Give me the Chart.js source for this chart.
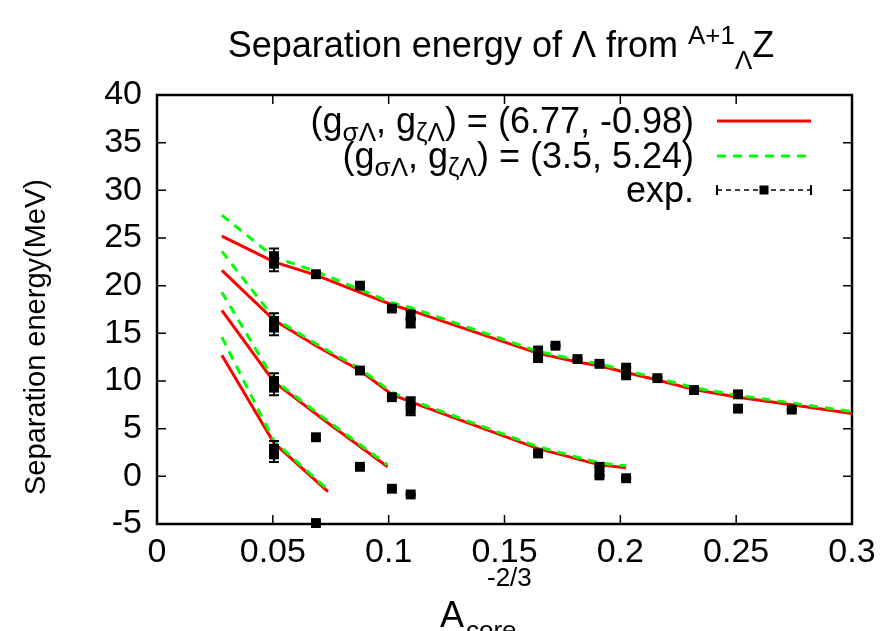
<!DOCTYPE html>
<html>
<head>
<meta charset="utf-8">
<script src="https://cdn.jsdelivr.net/npm/chart.js@4.4.1/dist/chart.umd.min.js"></script>
<style>
  html, body { margin: 0; padding: 0; background: #fff; }
  #wrap { width: 886px; height: 631px; }
</style>
</head>
<body>
<div id="wrap"><canvas id="c" width="886" height="631"></canvas></div>
<script>
// x axis: A_core^(-2/3), y axis: separation energy (MeV)
const X_MIN = 0, X_MAX = 0.3, Y_MIN = -5, Y_MAX = 40;
const xTicks = [0, 0.05, 0.1, 0.15, 0.2, 0.25, 0.3];
const yTicks = [-5, 0, 5, 10, 15, 20, 25, 30, 35, 40];

// s-shell
const sX = [0.028, 0.0505, 0.0686, 0.0876, 0.1014, 0.1095, 0.1645, 0.1815, 0.191, 0.2025, 0.216, 0.2318, 0.2508, 0.274, 0.3];
const sRed = [25.2, 22.5, 21.1, 19.3, 18.0, 17.4, 12.9, 12.0, 11.6, 10.9, 10.1, 9.1, 8.3, 7.5, 6.6];
const sGreen = [27.4, 23.0, 21.5, 19.6, 18.2, 17.7, 13.1, 12.2, 11.8, 11.1, 10.3, 9.3, 8.5, 7.7, 6.8];
// p-shell
const pX = [0.028, 0.0505, 0.0686, 0.0876, 0.1014, 0.1095, 0.1645, 0.191, 0.2025];
const pRed = [21.6, 16.4, 13.7, 11.1, 8.6, 7.8, 2.9, 1.2, 0.9];
const pGreen = [23.6, 16.6, 13.9, 11.3, 8.8, 8.0, 3.1, 1.4, 1.1];
// d-shell
const dX = [0.028, 0.0505, 0.0738, 0.0995];
const dRed = [17.4, 9.9, 5.6, 1.0];
const dGreen = [19.3, 10.1, 5.8, 1.2];
// f-shell
const fX = [0.028, 0.0505, 0.0738];
const fRed = [12.7, 3.5, -1.6];
const fGreen = [14.6, 3.7, -1.4];

// experimental values
const expX = [0.0505, 0.0505, 0.0686, 0.0876, 0.1014, 0.1095, 0.1095, 0.1645, 0.1645, 0.172, 0.1815, 0.191, 0.2025, 0.2025, 0.216, 0.2318, 0.2508, 0.2508, 0.274,
              0.0505, 0.0505, 0.0876, 0.1014, 0.1095, 0.1095, 0.1645, 0.191, 0.191, 0.2025,
              0.0505, 0.0505, 0.0686, 0.0876, 0.1014, 0.1095,
              0.0505, 0.0505, 0.0686];
const expY = [23.1, 22.3, 21.2, 20.0, 17.6, 16.9, 16.1, 13.2, 12.4, 13.7, 12.3, 11.8, 11.4, 10.6, 10.3, 9.05, 8.6, 7.1, 7.0,
              16.3, 15.6, 11.1, 8.3, 7.7, 7.0, 2.4, 1.0, 0.1, -0.2,
              10.0, 9.3, 4.1, 1.0, -1.3, -1.9,
              2.9, 2.3, -4.9];
const expErr = [0.8, 0.8, 0.2, 0.2, 0.2, 0.5, 0.5, 0.2, 0.2, 0.1, 0.1, 0.1, 0.1, 0.1, 0.1, 0.1, 0.1, 0.1, 0.1,
                0.8, 0.8, 0.1, 0.1, 0.6, 0.6, 0.1, 0.1, 0.1, 0.1,
                0.8, 0.8, 0.2, 0.1, 0.1, 0.1,
                0.8, 0.8, 0.1];

const FONT = '"Liberation Sans", Arial, sans-serif';
const RED = '#ff0000';
const GREEN = '#00ff00';

const pts = (xs, ys) => xs.map((x, i) => ({ x, y: ys[i] }));

function curve(xs, ys, color, dashed) {
  return {
    data: pts(xs, ys),
    showLine: true,
    borderColor: color,
    borderWidth: 3,
    borderDash: dashed ? [9, 7] : [],
    pointRadius: 0,
    tension: 0,
    fill: false
  };
}

// draws a list of text runs ({t, s, dy}) one after another
function drawRuns(ctx, runs, x, y, align) {
  let total = 0;
  runs.forEach(r => { ctx.font = r.s + 'px ' + FONT; r.w = ctx.measureText(r.t).width; total += r.w; });
  let cx = x;
  if (align === 'right') cx = x - total;
  if (align === 'center') cx = x - total / 2;
  runs.forEach(r => {
    ctx.font = r.s + 'px ' + FONT;
    ctx.fillText(r.t, cx, y + (r.dy || 0));
    cx += r.w;
  });
}

const framePlugin = {
  id: 'frame',
  beforeDatasetsDraw(chart) {
    const { ctx, chartArea: a, scales: { x, y } } = chart;
    const t = 9;
    ctx.save();
    ctx.strokeStyle = '#000';
    ctx.lineWidth = 1.5;
    ctx.beginPath();
    x.ticks.forEach(tk => {
      if (tk.value <= X_MIN || tk.value >= X_MAX) return;
      const px = x.getPixelForValue(tk.value);
      ctx.moveTo(px, a.bottom); ctx.lineTo(px, a.bottom - t);
      ctx.moveTo(px, a.top); ctx.lineTo(px, a.top + t);
    });
    y.ticks.forEach(tk => {
      if (tk.value <= Y_MIN || tk.value >= Y_MAX) return;
      const py = y.getPixelForValue(tk.value);
      ctx.moveTo(a.left, py); ctx.lineTo(a.left + t, py);
      ctx.moveTo(a.right, py); ctx.lineTo(a.right - t, py);
    });
    ctx.stroke();
    ctx.lineWidth = 2.5;
    ctx.strokeRect(a.left, a.top, a.width, a.height);
    ctx.restore();
  }
};

const errorBarPlugin = {
  id: 'errbars',
  afterDatasetsDraw(chart) {
    const { ctx, scales: { y } } = chart;
    const meta = chart.getDatasetMeta(0);
    ctx.save();
    ctx.strokeStyle = '#000';
    ctx.lineWidth = 2;
    ctx.beginPath();
    meta.data.forEach((p, i) => {
      const y1 = y.getPixelForValue(expY[i] + expErr[i]);
      const y2 = y.getPixelForValue(expY[i] - expErr[i]);
      ctx.moveTo(p.x, y1); ctx.lineTo(p.x, y2);
      ctx.moveTo(p.x - 5, y1); ctx.lineTo(p.x + 5, y1);
      ctx.moveTo(p.x - 5, y2); ctx.lineTo(p.x + 5, y2);
    });
    ctx.stroke();
    ctx.restore();
  }
};

const textPlugin = {
  id: 'texts',
  afterDraw(chart) {
    const ctx = chart.ctx;
    ctx.save();
    ctx.fillStyle = '#000';
    ctx.textBaseline = 'alphabetic';

    // title
    drawRuns(ctx, [
      { t: 'Separation energy of \u039b from ', s: 36 },
      { t: 'A+1', s: 26, dy: -13 },
      { t: '\u039b', s: 26, dy: 12 },
      { t: 'Z', s: 36 }
    ], 501, 57, 'center');

    // x axis title
    drawRuns(ctx, [{ t: 'A', s: 36 }], 440, 627, 'left');
    drawRuns(ctx, [{ t: 'core', s: 26 }], 466, 639, 'left');
    drawRuns(ctx, [{ t: '-2/3', s: 26 }], 487, 586, 'left');

    // y axis title
    ctx.save();
    ctx.translate(45, 337);
    ctx.rotate(-Math.PI / 2);
    drawRuns(ctx, [{ t: 'Separation energy(MeV)', s: 29 }], 0, 0, 'center');
    ctx.restore();

    // key
    const kx = 694, l1 = 717, l2 = 811;
    const rows = [121, 156, 190];
    const g = (a, b) => [
      { t: '(g', s: 36 },
      { t: '\u03c3\u039b', s: 26, dy: 8 },
      { t: ', g', s: 36 },
      { t: '\u03b6\u039b', s: 26, dy: 8 },
      { t: ') = (' + a + ', ' + b + ')', s: 36 }
    ];
    drawRuns(ctx, g('6.77', '-0.98'), kx, rows[0] + 12, 'right');
    drawRuns(ctx, g('3.5', '5.24'), kx, rows[1] + 12, 'right');
    drawRuns(ctx, [{ t: 'exp.', s: 36 }], kx, rows[2] + 12, 'right');

    ctx.lineWidth = 3;
    ctx.strokeStyle = RED;
    ctx.beginPath(); ctx.moveTo(l1, rows[0]); ctx.lineTo(l2, rows[0]); ctx.stroke();
    ctx.strokeStyle = GREEN;
    ctx.setLineDash([9, 7]);
    ctx.beginPath(); ctx.moveTo(l1, rows[1]); ctx.lineTo(l2, rows[1]); ctx.stroke();
    ctx.strokeStyle = '#000';
    ctx.lineWidth = 1.5;
    ctx.setLineDash([5, 4]);
    ctx.beginPath(); ctx.moveTo(l1, rows[2]); ctx.lineTo(l2, rows[2]); ctx.stroke();
    ctx.setLineDash([]);
    ctx.lineWidth = 2;
    ctx.beginPath();
    ctx.moveTo(l1, rows[2] - 5); ctx.lineTo(l1, rows[2] + 5);
    ctx.moveTo(l2, rows[2] - 5); ctx.lineTo(l2, rows[2] + 5);
    ctx.stroke();
    ctx.fillRect((l1 + l2) / 2 - 4.5, rows[2] - 4.5, 9, 9);
    ctx.restore();
  }
};

Chart.defaults.color = '#000';
Chart.defaults.font.family = FONT;

new Chart(document.getElementById('c'), {
  type: 'scatter',
  data: {
    datasets: [
      {
        data: pts(expX, expY),
        showLine: false,
        pointStyle: 'rect',
        pointRadius: 7,
        pointBackgroundColor: '#000',
        pointBorderWidth: 0,
        clip: false
      },
      curve(sX, sGreen, GREEN, true),
      curve(pX, pGreen, GREEN, true),
      curve(dX, dGreen, GREEN, true),
      curve(fX, fGreen, GREEN, true),
      curve(sX, sRed, RED, false),
      curve(pX, pRed, RED, false),
      curve(dX, dRed, RED, false),
      curve(fX, fRed, RED, false)
    ]
  },
  options: {
    responsive: false,
    animation: false,
    layout: { padding: { left: 0, top: 95, right: 34, bottom: 0 } },
    plugins: {
      legend: { display: false },
      title: { display: false },
      tooltip: { enabled: false }
    },
    scales: {
      x: {
        type: 'linear',
        min: X_MIN,
        max: X_MAX,
        afterBuildTicks: s => { s.ticks = xTicks.map(v => ({ value: v })); },
        afterFit: s => { s.height = 107; },
        grid: { display: false, drawTicks: false },
        border: { display: false },
        ticks: {
          padding: 8,
          font: { size: 34 },
          callback: v => String(+v.toFixed(2))
        }
      },
      y: {
        type: 'linear',
        min: Y_MIN,
        max: Y_MAX,
        afterBuildTicks: s => { s.ticks = yTicks.map(v => ({ value: v })); },
        afterFit: s => { s.width = 157; },
        grid: { display: false, drawTicks: false },
        border: { display: false },
        ticks: {
          padding: 15,
          font: { size: 34 },
          callback: v => String(v)
        }
      }
    }
  },
  plugins: [framePlugin, errorBarPlugin, textPlugin]
});
</script>
</body>
</html>
